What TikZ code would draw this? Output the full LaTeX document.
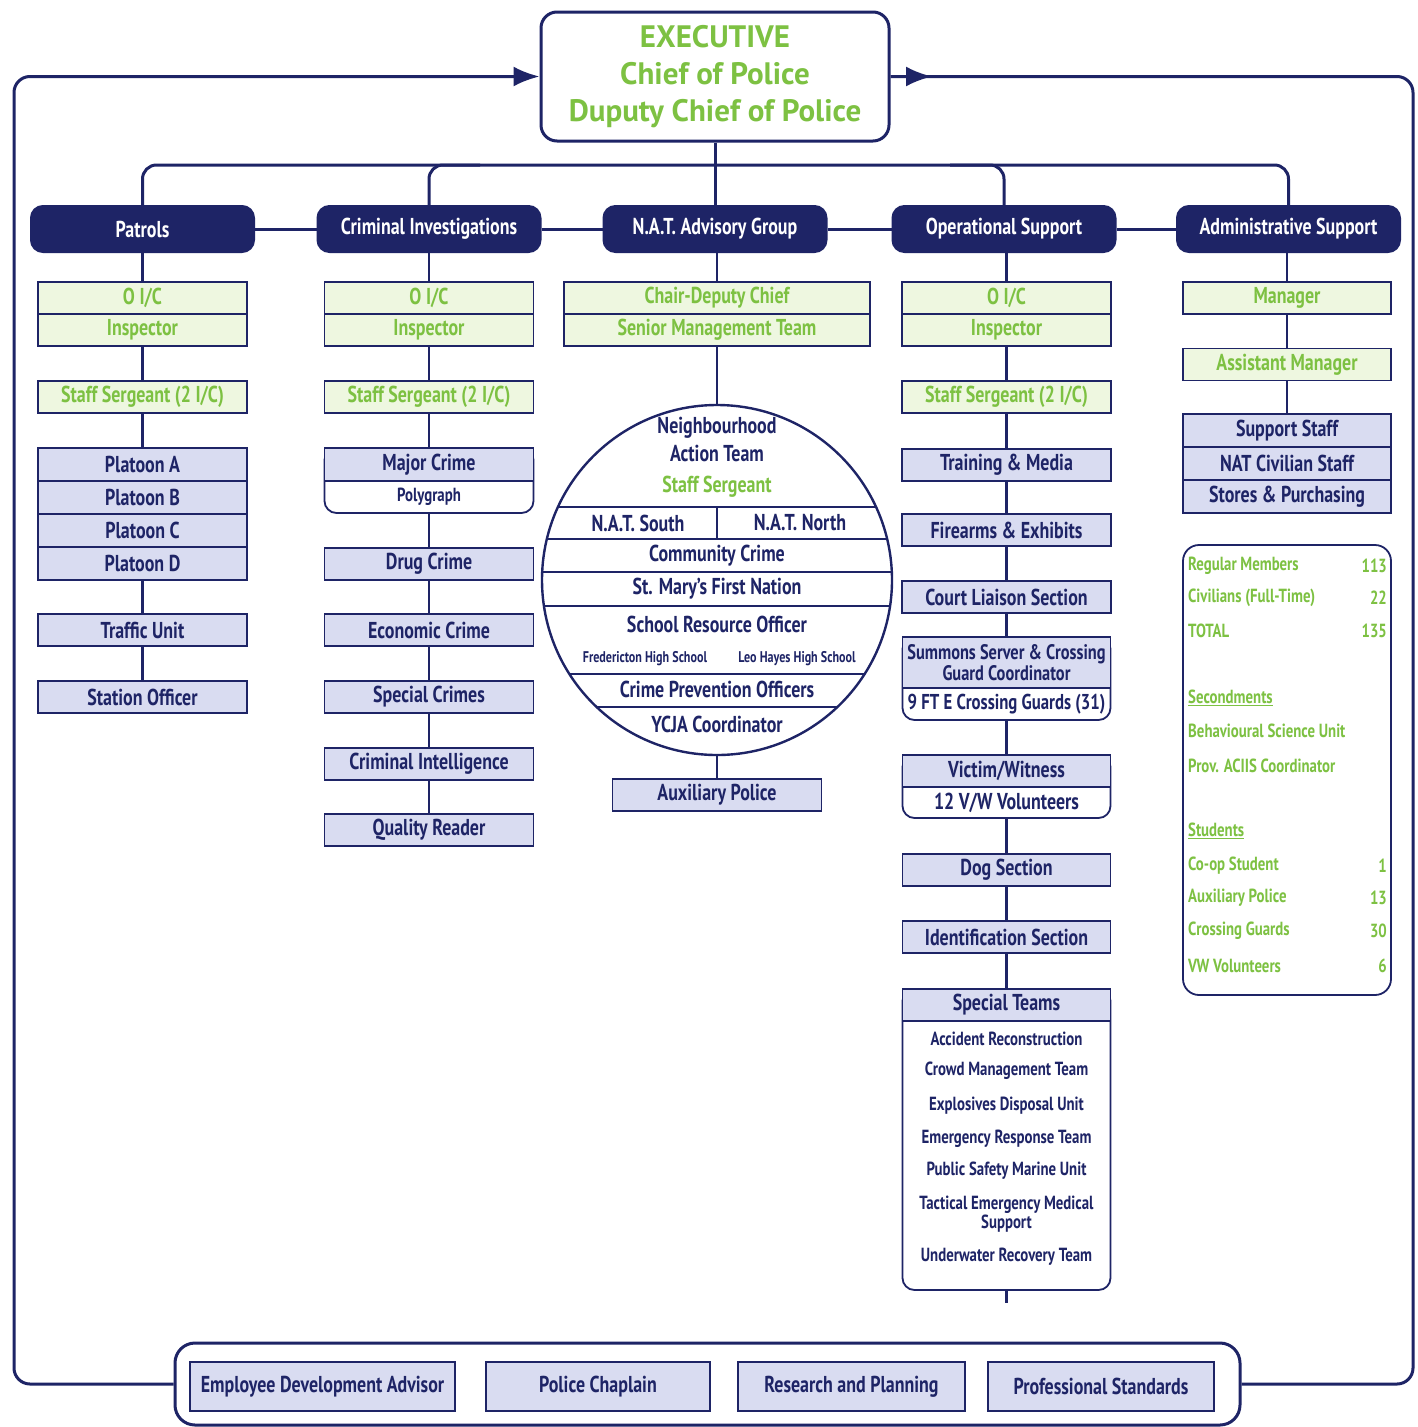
\documentclass[tikz,border=0pt]{standalone}
\usepackage{fontspec}
\setmainfont{PT Sans}[FakeStretch=0.78]
\newfontfamily\execfont{PT Sans}
\usetikzlibrary{arrows.meta}
\definecolor{navy}{HTML}{1E2466}
\definecolor{gtext}{HTML}{7DC142}
\definecolor{gfill}{HTML}{EEF7E0}
\definecolor{lfill}{HTML}{D9DCF1}
\newcommand\fsz[1]{\fontsize{#1}{#1}\selectfont\bfseries}
\begin{document}
\begin{tikzpicture}[x=1pt,y=-1pt,
  trunk/.style={draw=navy, line width=3pt},
  conn/.style={draw=navy, line width=2.2pt},
  execbox/.style={draw=navy, fill=white, line width=3pt, rounded corners=16pt, minimum width=348pt, minimum height=129pt, inner sep=0pt, align=center, text=gtext, font=\execfont\fontsize{31}{37}\selectfont\bfseries},
  hdr/.style={draw=navy, fill=navy, line width=2pt, rounded corners=12pt, minimum width=223pt, minimum height=46pt, inner sep=0pt, text=white, font=\fsz{23}},
  gbox/.style={draw=navy, fill=gfill, line width=1.8pt, minimum width=209pt, minimum height=32pt, inner sep=0pt, text=gtext, font=\fsz{23}},
  lbox/.style={gbox, fill=lfill, text=navy},
  wgrp/.style={draw=navy, fill=white, line width=1.8pt, rounded corners=12pt, minimum width=209pt, inner sep=0pt},
  txt/.style={inner sep=0pt, text=navy, font=\fsz{23}},
  stxt/.style={inner sep=0pt, text=navy, font=\fsz{19}},
  gs/.style={inner sep=0pt, text=gtext, font=\fsz{19}},
  arr/.style={-{Latex[length=26pt,width=20pt]}}
]
\useasboundingbox (0,0) rectangle (1418,1427);
\fill[white] (0,0) rectangle (1418,1427);

% ---------- executive ----------
\node[execbox] (exec) at (715,76.5) {EXECUTIVE\\Chief of Police\\Duputy Chief of Police};

% ---------- bottom bar ----------
\node[draw=navy, fill=white, line width=3pt, rounded corners=20pt, minimum width=1065pt, minimum height=82pt, inner sep=0pt] (bar) at (707.5,1384) {};
\node[lbox, minimum width=265pt, minimum height=49pt] (b1) at (322.5,1386.5) {Employee Development Advisor};
\node[lbox, minimum width=224pt, minimum height=49pt] (b2) at (598,1386.5) {Police Chaplain};
\node[lbox, minimum width=227pt, minimum height=49pt] (b3) at (851.5,1386.5) {Research and Planning};
\node[lbox, minimum width=226pt, minimum height=49pt] (b4) at (1101,1386.5) {Professional Standards};

% ---------- outer loop ----------
\coordinate (lbot) at (14,1384);
\coordinate (ltop) at (14,76.5);
\coordinate (rtop) at (1413,76.5);
\coordinate (rbot) at (1413,1384);
\draw[trunk, rounded corners=16pt, arr] (bar.west) -- (lbot) -- (ltop) -- (exec.west);
\draw[trunk, rounded corners=16pt] (exec.east) -- (rtop) -- (rbot) -- (bar.east);
\coordinate (rarr) at (932,76.5);
\draw[trunk, arr] (exec.east) -- (rarr);

% ---------- headers ----------
\coordinate (bary) at (0,165);
\node[hdr] (ph) at (142.5,229) {Patrols};
\node[hdr] (ch) at (429,229) {Criminal Investigations};
\node[hdr] (nh) at (715,229) {N.A.T. Advisory Group};
\node[hdr] (oh) at (1004,229) {Operational Support};
\node[hdr] (ah) at (1288.5,229) {Administrative Support};

\draw[trunk] (ph.east) -- (ch.west) (ch.east) -- (nh.west) (nh.east) -- (oh.west) (oh.east) -- (ah.west);
\draw[trunk, rounded corners=14pt] (ph.north) -- (ph.north |- bary) -- (ah.north |- bary) -- (ah.north);
\coordinate (cj) at (480,165);
\coordinate (oj) at (950,165);
\draw[trunk, rounded corners=14pt] (ch.north) -- (ch.north |- bary) -- (cj);
\draw[trunk, rounded corners=14pt] (oh.north) -- (oh.north |- bary) -- (oj);
\draw[trunk] (exec.south) -- (nh.north);

% ---------- Patrols ----------
\node[gbox] (p1) at (142.5,298) {O I/C};
\node[gbox] (p2) at (142.5,330) {Inspector};
\node[gbox] (p3) at (142.5,397) {Staff Sergeant (2 I/C)};
\node[lbox, minimum height=33pt] (p4) at (142.5,464.5) {Platoon A};
\node[lbox, minimum height=33pt] (p5) at (142.5,497.5) {Platoon B};
\node[lbox, minimum height=33pt] (p6) at (142.5,530.5) {Platoon C};
\node[lbox, minimum height=33pt] (p7) at (142.5,563.5) {Platoon D};
\node[lbox] (p8) at (142.5,630) {Traffic Unit};
\node[lbox] (p9) at (142.5,697) {Station Officer};
\draw[conn] (ph.south) -- (p1.north);
\draw[conn] (p2.south) -- (p3.north);
\draw[conn] (p3.south) -- (p4.north);
\draw[conn] (p7.south) -- (p8.north);
\draw[conn] (p8.south) -- (p9.north);

% ---------- Criminal Investigations ----------
\node[gbox] (c1) at (429,298) {O I/C};
\node[gbox] (c2) at (429,330) {Inspector};
\node[gbox] (c3) at (429,397) {Staff Sergeant (2 I/C)};
\node[wgrp, minimum height=65pt] (c4g) at (429,480.5) {};
\node[lbox, minimum height=33pt] (c4) at (429,464.5) {Major Crime};
\node[stxt] (c4t) at (429,497) {Polygraph};
\node[lbox] (c5) at (429,564) {Drug Crime};
\node[lbox] (c6) at (429,630) {Economic Crime};
\node[lbox] (c7) at (429,697) {Special Crimes};
\node[lbox] (c8) at (429,764) {Criminal Intelligence};
\node[lbox] (c9) at (429,830) {Quality Reader};
\draw[conn] (ch.south) -- (c1.north);
\draw[conn] (c2.south) -- (c3.north);
\draw[conn] (c3.south) -- (c4.north);
\draw[conn] (c4g.south) -- (c5.north);
\draw[conn] (c5.south) -- (c6.north);
\draw[conn] (c6.south) -- (c7.north);
\draw[conn] (c7.south) -- (c8.north);
\draw[conn] (c8.south) -- (c9.north);

% ---------- N.A.T. ----------
\node[gbox, minimum width=306pt] (n1) at (717,298) {Chair-Deputy Chief};
\node[gbox, minimum width=306pt] (n2) at (717,330) {Senior Management Team};
\node[draw=navy, line width=2.4pt, circle, minimum size=350pt, inner sep=0pt] (nc) at (717,580) {};
\begin{scope}
\clip (717,580) circle (175);
\draw[conn] (500,507) -- (950,507) (500,539) -- (950,539) (500,572) -- (950,572)
            (500,606) -- (950,606) (500,674) -- (950,674) (500,707) -- (950,707);
\draw[conn] (717,507) -- (717,539);
\end{scope}
\node[txt] (nt1) at (717,428) {Neighbourhood};
\node[txt] (nt2) at (717,453) {Action Team};
\node[txt, text=gtext] (nt3) at (717,487) {Staff Sergeant};
\node[txt] (nt4) at (638,523) {N.A.T. South};
\node[txt] (nt5) at (800,523) {N.A.T. North};
\node[txt] (nt6) at (717,556) {Community Crime};
\node[txt] (nt7) at (717,589) {St. Mary's First Nation};
\node[txt] (nt8) at (717,624) {School Resource Officer};
\node[txt, font=\fsz{15.5}] (nt9) at (645,659) {Fredericton High School};
\node[txt, font=\fsz{15.5}] (nt10) at (797,659) {Leo Hayes High School};
\node[txt] (nt11) at (717,689) {Crime Prevention Officers};
\node[txt] (nt12) at (717,724) {YCJA Coordinator};
\node[lbox] (n3) at (717,795) {Auxiliary Police};
\draw[conn] (nh.south -| n1.north) -- (n1.north);
\draw[conn] (n2.south) -- (nc.north);
\draw[conn] (nc.south) -- (n3.north);

% ---------- Operational Support ----------
\node[gbox] (o1) at (1006.5,298) {O I/C};
\node[gbox] (o2) at (1006.5,330) {Inspector};
\node[gbox] (o3) at (1006.5,397) {Staff Sergeant (2 I/C)};
\node[lbox] (o4) at (1006.5,465) {Training \& Media};
\node[lbox] (o5) at (1006.5,530) {Firearms \& Exhibits};
\node[lbox] (o6) at (1006.5,597) {Court Liaison Section};
\node[wgrp, minimum width=208pt, minimum height=83pt] (o7g) at (1006.5,678.5) {};
\node[lbox, minimum width=208pt, minimum height=51pt, align=center, font=\fontsize{21}{19}\selectfont\bfseries] (o7) at (1006.5,662.5) {Summons Server \& Crossing\\Guard Coordinator};
\node[txt, font=\fsz{21.5}] (o7t) at (1006.5,704) {9 FT E Crossing Guards (31)};
\node[wgrp, minimum width=208pt, minimum height=63pt] (o8g) at (1006.5,786.5) {};
\node[lbox, minimum width=208pt] (o8) at (1006.5,771) {Victim/Witness};
\node[txt] (o8t) at (1006.5,803) {12 V/W Volunteers};
\node[lbox, minimum width=208pt] (o9) at (1006.5,870) {Dog Section};
\node[lbox, minimum width=208pt] (o10) at (1006.5,937) {Identification Section};
\node[wgrp, minimum width=208pt, minimum height=301pt] (o11g) at (1006.5,1139.5) {};
\node[lbox, minimum width=208pt] (o11) at (1006.5,1005) {Special Teams};
\node[stxt] (s1) at (1006.5,1039) {Accident Reconstruction};
\node[stxt] (s2) at (1006.5,1071) {Crowd Management Team};
\node[stxt] (s3) at (1006.5,1106) {Explosives Disposal Unit};
\node[stxt] (s4) at (1006.5,1139) {Emergency Response Team};
\node[stxt] (s5) at (1006.5,1171) {Public Safety Marine Unit};
\node[stxt, align=center, font=\fontsize{19}{15}\selectfont\bfseries] (s6) at (1006.5,1214) {Tactical Emergency Medical\\Support};
\node[stxt] (s7) at (1006.5,1257) {Underwater Recovery Team};
\coordinate (ostub) at (1006.5,1303);
\draw[conn] (oh.south -| o1.north) -- (o1.north);
\draw[conn] (o2.south) -- (o3.north);
\draw[conn] (o3.south) -- (o4.north);
\draw[conn] (o4.south) -- (o5.north);
\draw[conn] (o5.south) -- (o6.north);
\draw[conn] (o6.south) -- (o7.north);
\draw[conn] (o7g.south) -- (o8.north);
\draw[conn] (o8g.south) -- (o9.north);
\draw[conn] (o9.south) -- (o10.north);
\draw[conn] (o10.south) -- (o11.north);
\draw[conn] (o11g.south) -- (ostub);

% ---------- Administrative Support ----------
\node[gbox, minimum width=208pt] (a1) at (1287,298) {Manager};
\node[gbox, minimum width=208pt] (a2) at (1287,364.5) {Assistant Manager};
\node[lbox, minimum width=208pt, minimum height=33pt] (a3) at (1287,430.5) {Support Staff};
\node[lbox, minimum width=208pt, minimum height=33pt] (a4) at (1287,463.5) {NAT Civilian Staff};
\node[lbox, minimum width=208pt, minimum height=33pt] (a5) at (1287,496.5) {Stores \& Purchasing};
\draw[conn] (ah.south -| a1.north) -- (a1.north);
\draw[conn] (a1.south) -- (a2.north);
\draw[conn] (a2.south) -- (a3.north);

\node[wgrp, minimum width=208pt, minimum height=450pt, rounded corners=16pt] (st) at (1287,770) {};
\node[gs, anchor=west] (st1) at (1188,566) {Regular Members};
\node[gs, anchor=east] (st1n) at (1387,566) {113};
\node[gs, anchor=west] (st2) at (1188,598) {Civilians (Full-Time)};
\node[gs, anchor=east] (st2n) at (1387,598) {22};
\node[gs, anchor=west] (st3) at (1188,631) {TOTAL};
\node[gs, anchor=east] (st3n) at (1387,631) {135};
\node[gs, anchor=west] (st4) at (1188,698) {\underline{Secondments}};
\node[gs, anchor=west] (st5) at (1188,731) {Behavioural Science Unit};
\node[gs, anchor=west] (st6) at (1188,766) {Prov. ACIIS Coordinator};
\node[gs, anchor=west] (st7) at (1188,831) {\underline{Students}};
\node[gs, anchor=west] (st8) at (1188,866) {Co-op Student};
\node[gs, anchor=east] (st8n) at (1387,866) {1};
\node[gs, anchor=west] (st9) at (1188,898) {Auxiliary Police};
\node[gs, anchor=east] (st9n) at (1387,898) {13};
\node[gs, anchor=west] (st10) at (1188,931) {Crossing Guards};
\node[gs, anchor=east] (st10n) at (1387,931) {30};
\node[gs, anchor=west] (st11) at (1188,966) {VW Volunteers};
\node[gs, anchor=east] (st11n) at (1387,966) {6};
\end{tikzpicture}
\end{document}
